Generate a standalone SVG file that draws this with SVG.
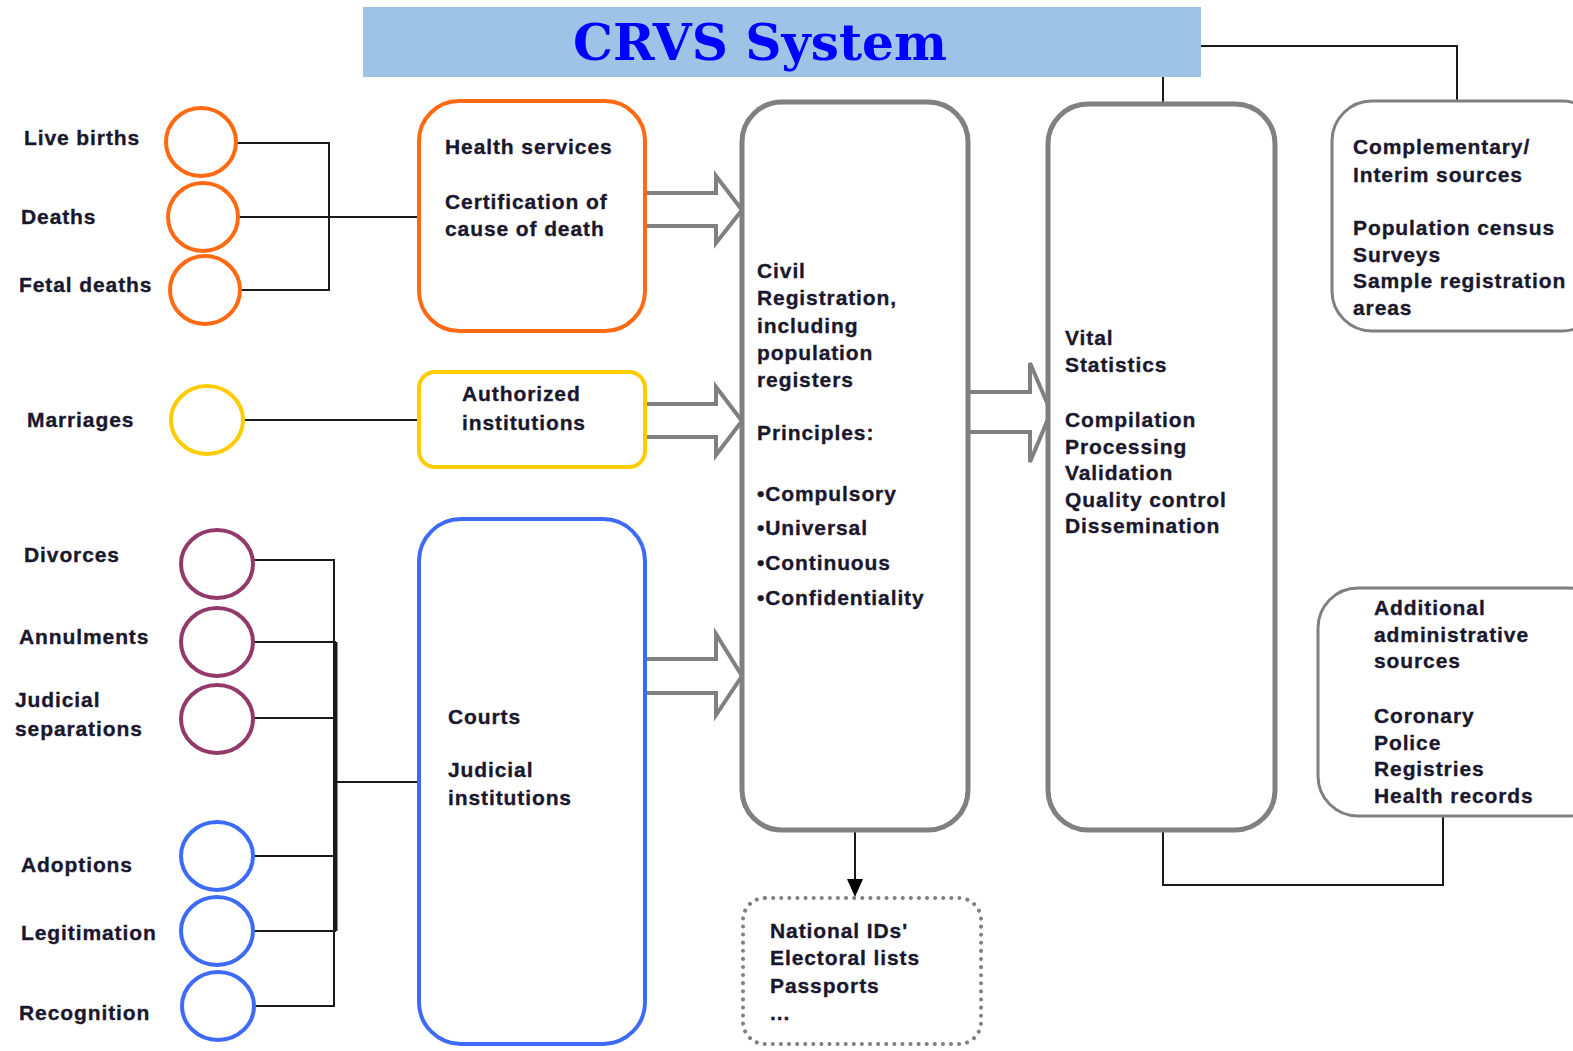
<svg xmlns="http://www.w3.org/2000/svg" width="1573" height="1051" viewBox="0 0 1573 1051">
<defs>
<style>
text{font-family:"Liberation Sans",Arial,sans-serif;font-weight:bold;font-size:21px;fill:#17172e;stroke:#2a2030;stroke-width:0.35;letter-spacing:0.9px}
.title{font-family:"DejaVu Serif","Liberation Serif",serif;font-size:50px;fill:#0000ff;stroke:none;letter-spacing:0}
.orange{fill:none;stroke:#ff6a13;stroke-width:4}
.yellow{fill:none;stroke:#ffcc00;stroke-width:4}
.purple{fill:none;stroke:#933a6a;stroke-width:4}
.blue{fill:none;stroke:#3d6bf5;stroke-width:4}
.gray{fill:#fff;stroke:#808080;stroke-width:5}
.thin{fill:#fff;stroke:#808080;stroke-width:3}
.dot{fill:#fff;stroke:#808080;stroke-width:4;stroke-dasharray:0.1 8;stroke-linecap:round}
.conn{fill:none;stroke:#1a1a1a;stroke-width:2}
.harrow{fill:#fff;stroke:#808080;stroke-width:4;stroke-linejoin:miter}
</style>
<marker id="ah" markerWidth="16" markerHeight="18" refX="8" refY="18" orient="auto-start-reverse" markerUnits="userSpaceOnUse" viewBox="0 0 16 18">
<path d="M0,0 L16,0 L8,18 Z" fill="#000" transform="rotate(-90 8 9)"/>
</marker>
</defs>
<rect width="1573" height="1051" fill="#fff"/>

<g id="title">
<rect x="363" y="7" width="838" height="70" fill="#9dc3e6"/>
<text class="title" x="760" y="60" text-anchor="middle" textLength="374" lengthAdjust="spacingAndGlyphs">CRVS System</text>
</g>

<g id="connectors">
<polyline class="conn" points="237,143 329,143 329,290 240,290"/>
<line class="conn" x1="239" y1="217" x2="419" y2="217"/>
<line class="conn" x1="244" y1="420" x2="419" y2="420"/>
<polyline class="conn" points="253,560 334,560 334,1006 255,1006"/>
<line class="conn" x1="336" y1="642" x2="336" y2="931" style="stroke-width:3"/>
<line class="conn" x1="253" y1="642" x2="336" y2="642"/>
<line class="conn" x1="253" y1="718" x2="336" y2="718"/>
<line class="conn" x1="253" y1="856" x2="336" y2="856"/>
<line class="conn" x1="253" y1="931" x2="336" y2="931"/>
<line class="conn" x1="336" y1="782" x2="419" y2="782"/>
<polyline class="conn" points="1201,46 1457,46 1457,101"/>
<line class="conn" x1="1163" y1="77" x2="1163" y2="104"/>
<polyline class="conn" points="1163,830 1163,885 1443,885 1443,816"/>
<line class="conn" x1="855" y1="830" x2="855" y2="880"/>
<path d="M847,879 L863,879 L855,897 Z" fill="#000"/>
<polygon class="harrow" points="645,193 716,193 716,176 742,210 716,243 716,226 645,226"/>
<polygon class="harrow" points="645,404 716,404 716,387 742,421 716,455 716,437 645,437"/>
<polygon class="harrow" points="645,659 716,659 716,634 742,676 716,715 716,693 645,693"/>
<polygon class="harrow" points="968,392 1030,392 1030,363 1051,412 1030,462 1030,432 968,432"/>
</g>

<g id="live-births"><ellipse class="orange" cx="201" cy="142" rx="35" ry="34"/><text x="24" y="145">Live births</text></g>
<g id="deaths"><ellipse class="orange" cx="203" cy="217" rx="35" ry="34"/><text x="21" y="224">Deaths</text></g>
<g id="fetal-deaths"><ellipse class="orange" cx="205" cy="290" rx="35" ry="34"/><text x="19" y="292">Fetal deaths</text></g>
<g id="marriages"><ellipse class="yellow" cx="207" cy="420" rx="36" ry="34"/><text x="27" y="427">Marriages</text></g>
<g id="divorces"><ellipse class="purple" cx="217" cy="564" rx="36" ry="34"/><text x="24" y="562">Divorces</text></g>
<g id="annulments"><ellipse class="purple" cx="217" cy="642" rx="36" ry="34"/><text x="19" y="644">Annulments</text></g>
<g id="judicial-separations"><ellipse class="purple" cx="217" cy="719" rx="36" ry="34"/><text x="15" y="707">Judicial</text><text x="15" y="736">separations</text></g>
<g id="adoptions"><ellipse class="blue" cx="217" cy="856" rx="36" ry="34"/><text x="21" y="872">Adoptions</text></g>
<g id="legitimation"><ellipse class="blue" cx="217" cy="931" rx="36" ry="34"/><text x="21" y="940">Legitimation</text></g>
<g id="recognition"><ellipse class="blue" cx="218" cy="1006" rx="36" ry="34"/><text x="19" y="1020">Recognition</text></g>

<g id="health-services"><rect class="orange" x="419" y="101" width="226" height="230" rx="40"/>
<text x="445" y="154">Health services</text><text x="445" y="209">Certification of</text><text x="445" y="236">cause of death</text></g>
<g id="authorized-institutions"><rect class="yellow" x="419" y="372" width="226" height="95" rx="16"/>
<text x="462" y="401">Authorized</text><text x="462" y="430">institutions</text></g>
<g id="courts"><rect class="blue" x="419" y="519" width="226" height="525" rx="42"/>
<text x="448" y="724">Courts</text><text x="448" y="777">Judicial</text><text x="448" y="805">institutions</text></g>

<g id="civil-registration"><rect class="gray" x="742" y="102" width="226" height="728" rx="40"/>
<text x="757" y="278">Civil</text><text x="757" y="305">Registration,</text><text x="757" y="333">including</text><text x="757" y="360">population</text><text x="757" y="387">registers</text>
<text x="757" y="440">Principles:</text>
<text x="757" y="501">•Compulsory</text><text x="757" y="535">•Universal</text><text x="757" y="570">•Continuous</text><text x="757" y="605">•Confidentiality</text></g>

<g id="vital-statistics"><rect class="gray" x="1048" y="104" width="227" height="726" rx="40"/>
<text x="1065" y="345">Vital</text><text x="1065" y="372">Statistics</text>
<text x="1065" y="427">Compilation</text><text x="1065" y="454">Processing</text><text x="1065" y="480">Validation</text><text x="1065" y="507">Quality control</text><text x="1065" y="533">Dissemination</text></g>

<g id="complementary-sources"><rect class="thin" x="1332" y="101" width="270" height="230" rx="40"/>
<text x="1353" y="154">Complementary/</text><text x="1353" y="182">Interim sources</text>
<text x="1353" y="235">Population census</text><text x="1353" y="262">Surveys</text><text x="1353" y="288">Sample registration</text><text x="1353" y="315">areas</text></g>

<g id="additional-sources"><rect class="thin" x="1318" y="588" width="290" height="228" rx="40"/>
<text x="1374" y="615">Additional</text><text x="1374" y="642">administrative</text><text x="1374" y="668">sources</text>
<text x="1374" y="723">Coronary</text><text x="1374" y="750">Police</text><text x="1374" y="776">Registries</text><text x="1374" y="803">Health records</text></g>

<g id="outputs"><rect class="dot" x="743" y="898" width="238" height="146" rx="22"/>
<text x="770" y="938">National IDs'</text><text x="770" y="965">Electoral lists</text><text x="770" y="993">Passports</text><text x="770" y="1020">...</text></g>
</svg>
